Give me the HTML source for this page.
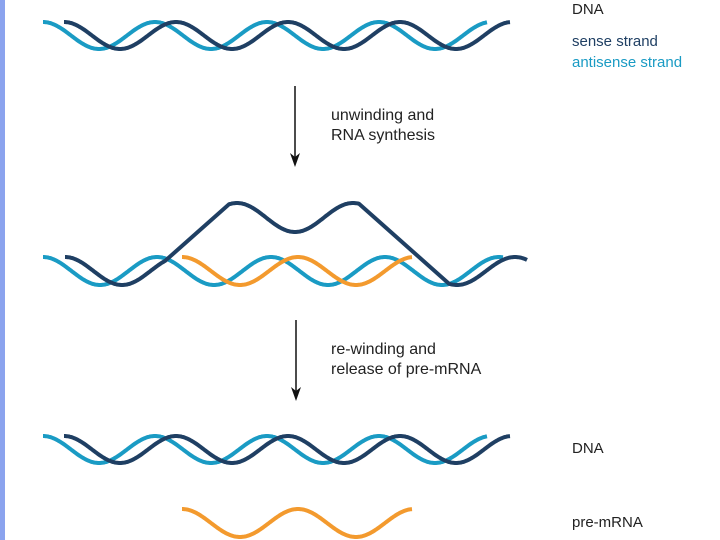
<!DOCTYPE html>
<html><head><style>
body{margin:0;width:720px;height:540px;background:#fff;overflow:hidden;position:relative;font-family:"Liberation Sans",sans-serif}
.bar{position:absolute;left:0;top:0;width:5px;height:540px;background:#8ba3ee}
.t{position:absolute;font-size:15px;color:#222;line-height:20px;white-space:nowrap}
</style></head><body>
<div class="bar"></div>
<svg width="720" height="540" style="position:absolute;left:0;top:0">
<g id="g" fill="none" stroke-width="4" stroke-linecap="butt"></g>
<line x1="295" y1="86" x2="295" y2="158" stroke="#111" stroke-width="1.5"/>
<path d="M290,153 L295,167 L300,153 L295,157 Z" fill="#111"/>
<line x1="296" y1="320" x2="296" y2="392" stroke="#111" stroke-width="1.5"/>
<path d="M291,387 L296,401 L301,387 L296,391 Z" fill="#111"/>
</svg>
<div class="t" style="left:331px;top:106px;font-size:16px">unwinding and<br>RNA synthesis</div>
<div class="t" style="left:331px;top:340px;font-size:16px">re-winding and<br>release of pre-mRNA</div>
<div class="t" style="left:572px;top:0px">DNA</div>
<div class="t" style="left:572px;top:32px;color:#1f3f63">sense strand</div>
<div class="t" style="left:572px;top:53px;color:#1a9bc4">antisense strand</div>
<div class="t" style="left:572px;top:439px">DNA</div>
<div class="t" style="left:572px;top:513px">pre-mRNA</div>
<script>
var g=document.getElementById('g');
function w(x0,x1,xp,P,yt,yb){var a=(yb-yt)/2,m=(yt+yb)/2,p=[];for(var x=x0;x<=x1+0.01;x+=1){p.push([x,m-a*Math.cos(2*Math.PI*(x-xp)/P)]);}return p;}
function draw(pts,c){var e=document.createElementNS('http://www.w3.org/2000/svg','polyline');e.setAttribute('points',pts.map(function(q){return q[0].toFixed(1)+','+q[1].toFixed(1)}).join(' '));e.setAttribute('stroke',c);e.setAttribute('fill','none');e.setAttribute('stroke-width','4');g.appendChild(e);}
var L='#1a9bc4',D='#1f3f63',O='#f39a2e';
draw(w(43,487,43,112,22,49),L);draw(w(64,510,64,112,22,49),D);
draw(w(43,503,43,114,257,285),L);
var d=w(65,165,65,114,257,285);d=d.concat(w(229,359,237,116,203,232));d=d.concat(w(449,527,515,116,257,285));
draw(d,D);
draw(w(182,412,182,116,257,285),O);
draw(w(43,487,43,112,436,463),L);draw(w(64,510,64,112,436,463),D);
draw(w(182,412,182,116,509,537),O);
</script>
</body></html>
